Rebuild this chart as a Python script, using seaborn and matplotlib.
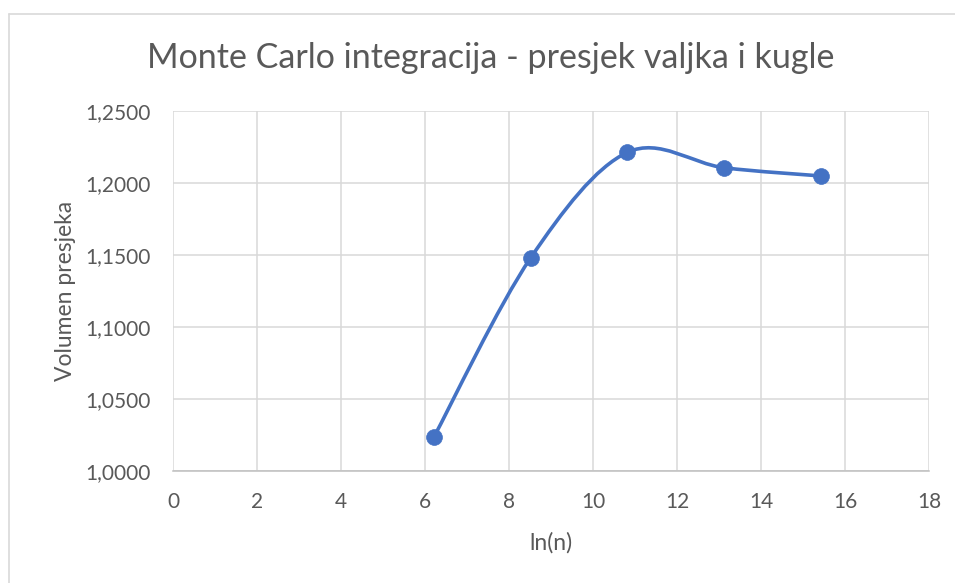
import matplotlib
matplotlib.use("Agg")
import matplotlib.pyplot as plt
import seaborn as sns
import pandas as pd
from matplotlib.path import Path
from matplotlib.patches import PathPatch
from matplotlib.lines import Line2D
from matplotlib.ticker import FuncFormatter, MultipleLocator

# Data
ln_n = [6.2146, 8.5172, 10.8198, 13.1224, 15.4249]
volumen = [1.0240, 1.1483, 1.2215, 1.2108, 1.2051]

title = "Monte Carlo integracija - presjek valjka i kugle"
x_label = "ln(n)"
y_label = "Volumen presjeka"

BLUE = "#4472C4"
GRID = "#d9d9d9"
TEXT = "#595959"

sns.set_theme(style="white")
plt.rcParams["font.family"] = ["Lato", "DejaVu Sans"]

df = pd.DataFrame({"ln_n": ln_n, "volumen": volumen})

fig = plt.figure(figsize=(9.55, 5.83), dpi=100)
ax = fig.add_axes([0.1812, 0.1916, 0.7916, 0.6175])

# smoothed line (Excel style cubic Bezier through the points)
pts = list(zip(df["ln_n"], df["volumen"]))
ext = [pts[0]] + pts + [pts[-1]]
verts = [pts[0]]
codes = [Path.MOVETO]
for i in range(1, len(ext) - 2):
    p0, p1, p2, p3 = ext[i - 1], ext[i], ext[i + 1], ext[i + 2]
    c1 = (p1[0] + (p2[0] - p0[0]) / 6, p1[1] + (p2[1] - p0[1]) / 6)
    c2 = (p2[0] - (p3[0] - p1[0]) / 6, p2[1] - (p3[1] - p1[1]) / 6)
    verts += [c1, c2, p2]
    codes += [Path.CURVE4] * 3
ax.add_patch(PathPatch(Path(verts, codes), facecolor="none", edgecolor=BLUE,
                       lw=2.6, capstyle="round", zorder=3))

sns.scatterplot(data=df, x="ln_n", y="volumen", ax=ax, color=BLUE, s=130,
                edgecolor=BLUE, linewidth=0.5, zorder=4, legend=False)

ax.set_xlim(0, 18)
ax.set_ylim(1.0, 1.25)
ax.xaxis.set_major_locator(MultipleLocator(2))
ax.yaxis.set_major_locator(MultipleLocator(0.05))
ax.yaxis.set_major_formatter(FuncFormatter(lambda v, p: f"{v:.4f}".replace(".", ",")))
ax.xaxis.set_major_formatter(FuncFormatter(lambda v, p: f"{v:.0f}"))

ax.grid(True, color=GRID, lw=1.1)
ax.set_axisbelow(True)
for s in ["top", "right", "left"]:
    ax.spines[s].set_visible(False)
ax.spines["bottom"].set_color("#bfbfbf")
ax.spines["bottom"].set_linewidth(1.1)
ax.tick_params(axis="both", length=0, labelsize=15, colors=TEXT)
ax.tick_params(axis="y", pad=16)
ax.tick_params(axis="x", pad=15)

ax.set_xlabel(x_label, fontsize=16.5, color=TEXT, labelpad=14)
ax.set_ylabel(y_label, fontsize=16.5, color=TEXT, labelpad=7)

fig.text(491 / 955, 1 - 58 / 583, title, fontsize=24.5, color=TEXT,
         ha="center", va="center")

# chart area border (only left and top visible in the crop)
fig.add_artist(Line2D([9 / 955, 9 / 955], [0, 1 - 14 / 583], color="#d9d9d9", lw=1.2,
                      transform=fig.transFigure))
fig.add_artist(Line2D([9 / 955, 1], [1 - 14 / 583, 1 - 14 / 583], color="#d9d9d9", lw=1.2,
                      transform=fig.transFigure))

fig.savefig("out.png", dpi=100, facecolor="white")
